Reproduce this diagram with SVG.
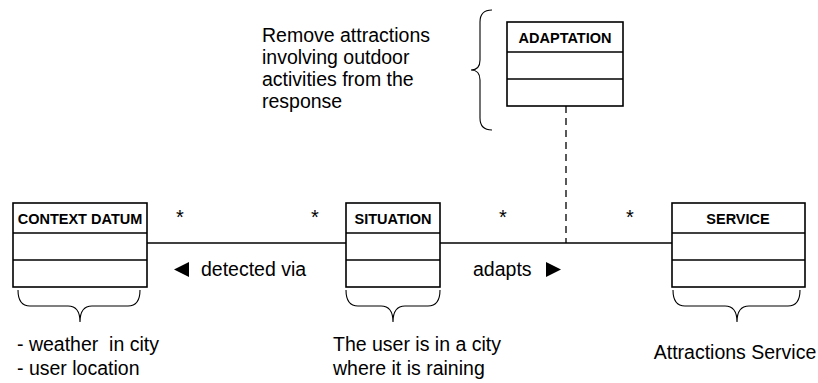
<svg xmlns="http://www.w3.org/2000/svg" width="818" height="383" viewBox="0 0 818 383">
<style>
.box{fill:#fff;stroke:#000;stroke-width:1.6}
.sep{stroke:#000;stroke-width:1.6}
.hd{font-family:"Liberation Sans",Arial,sans-serif;font-weight:bold;font-size:14.5px;text-anchor:middle;fill:#000}
.t{font-family:"Liberation Sans",Arial,sans-serif;font-size:19.5px;fill:#000}
.st{font-family:"Liberation Sans",Arial,sans-serif;font-size:20px;text-anchor:middle;fill:#000}
.br{fill:none;stroke:#000;stroke-width:1.1}
.ln{stroke:#000;stroke-width:1.3;fill:none}
</style>
<rect width="818" height="383" fill="#fff"/>
<g id="connectors">
<line class="ln" x1="147" y1="243" x2="346" y2="243"/>
<line class="ln" x1="440" y1="243" x2="672" y2="243"/>
<line class="ln" x1="566" y1="106" x2="566" y2="243" stroke-dasharray="7,5"/>
<text class="st" x="180" y="224">*</text>
<text class="st" x="315" y="224">*</text>
<text class="st" x="503" y="224">*</text>
<text class="st" x="630" y="224">*</text>
<polygon points="189,262 189,277 174,269.5" fill="#000"/>
<text class="t" x="201" y="276">detected via</text>
<text class="t" x="473" y="276">adapts</text>
<polygon points="546,262 546,277 561,269.5" fill="#000"/>
</g>
<g id="context-datum">
<rect class="box" x="13" y="203" width="134" height="84"/>
<line class="sep" x1="13" y1="233" x2="147" y2="233"/>
<line class="sep" x1="13" y1="260" x2="147" y2="260"/>
<text class="hd" x="80" y="223.5">CONTEXT DATUM</text>
<path class="br" d="M18,290 Q18,306 30,306 L68,306 Q80,306 80,322 Q80,306 92,306 L128,306 Q140,306 140,290"/>
<text class="t" x="17" y="351" xml:space="preserve">- weather  in city</text>
<text class="t" x="17" y="375">- user location</text>
</g>
<g id="situation">
<rect class="box" x="346" y="203" width="94" height="84"/>
<line class="sep" x1="346" y1="233" x2="440" y2="233"/>
<line class="sep" x1="346" y1="260" x2="440" y2="260"/>
<text class="hd" x="393" y="223.5">SITUATION</text>
<path class="br" d="M346,290 Q346,306 358,306 L381,306 Q393,306 393,322 Q393,306 405,306 L428,306 Q440,306 440,290"/>
<text class="t" x="333" y="351">The user is in a city</text>
<text class="t" x="333" y="375">where it is raining</text>
</g>
<g id="service">
<rect class="box" x="672" y="203" width="133" height="84"/>
<line class="sep" x1="672" y1="233" x2="805" y2="233"/>
<line class="sep" x1="672" y1="260" x2="805" y2="260"/>
<text class="hd" x="738" y="223.5">SERVICE</text>
<path class="br" d="M673,290 Q673,306 685,306 L725,306 Q737,306 737,322 Q737,306 749,306 L788,306 Q800,306 800,290"/>
<text class="t" x="735" y="359" text-anchor="middle">Attractions Service</text>
</g>
<g id="adaptation">
<rect class="box" x="507" y="22" width="116" height="84"/>
<line class="sep" x1="507" y1="52" x2="623" y2="52"/>
<line class="sep" x1="507" y1="79" x2="623" y2="79"/>
<text class="hd" x="565" y="42.5">ADAPTATION</text>
<path class="br" d="M492,10 Q480,10 480,22 L480,60 Q480,70 471,70 Q480,70 480,80 L480,118 Q480,130 492,130"/>
<text class="t" x="262" y="42">Remove attractions</text>
<text class="t" x="262" y="64">involving outdoor</text>
<text class="t" x="262" y="86">activities from the</text>
<text class="t" x="262" y="108">response</text>
</g>
</svg>
